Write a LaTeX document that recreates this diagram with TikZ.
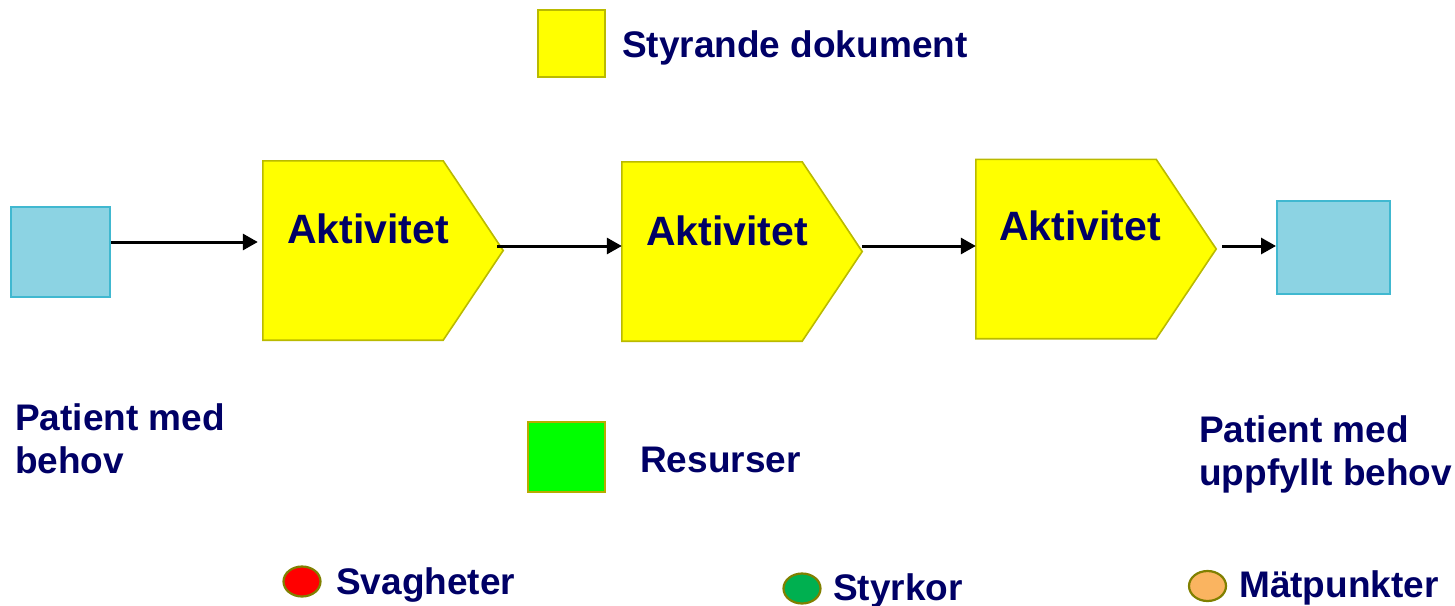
\documentclass[tikz,border=0pt]{standalone}
\usepackage{fontspec}
\setmainfont{Liberation Sans}
\usetikzlibrary{shapes.geometric,arrows.meta}
\definecolor{navy}{RGB}{0,0,102}
\definecolor{patfill}{RGB}{140,211,227}
\definecolor{patline}{RGB}{64,184,208}
\definecolor{docfill}{RGB}{255,255,0}
\definecolor{docline}{RGB}{186,186,0}
\definecolor{resfill}{RGB}{0,255,0}
\definecolor{resline}{RGB}{184,170,0}
\definecolor{dotline}{RGB}{128,128,0}
\definecolor{weakfill}{RGB}{255,0,0}
\definecolor{strongfill}{RGB}{0,176,80}
\definecolor{measfill}{RGB}{250,180,96}
\tikzset{
  patbox/.style={draw=patline, fill=patfill, line width=2pt, inner sep=0pt},
  actarea/.style={inner sep=0pt, minimum width=240pt, minimum height=179pt},
  actshape/.style={draw=docline, fill=docfill, line width=1.6pt, line join=miter},
  legbox/.style={line width=2pt, inner sep=0pt},
  dot/.style={ellipse, draw=dotline, line width=2.2pt, inner sep=0pt,
    minimum width=37pt, minimum height=30pt},
  lbl/.style={text=navy, font=\bfseries\fontsize{37}{43}\selectfont,
    anchor=base west, inner sep=0pt, align=left},
  acttxt/.style={text=navy, font=\bfseries\fontsize{41}{48}\selectfont,
    anchor=base west, inner sep=0pt},
  arr/.style={line width=3pt, -{Triangle[length=15pt,width=16pt]}}
}
\begin{document}
\begin{tikzpicture}[x=1pt,y=-1pt]
\useasboundingbox (0,0) rectangle (1455,605);

% patient before and after the process
\node[patbox, minimum width=99pt, minimum height=90pt] (pin) at (60.5,252) {};
\node[patbox, minimum width=113pt, minimum height=93pt] (pout) at (1333.5,247.5) {};

% the three activities: areas, then arrow-shaped outlines
\node[actarea] (a1) at (383,250.5) {};
\node[actarea] (a2) at (742,251.5) {};
\node[actarea] (a3) at (1096,249) {};
\foreach \a in {a1,a2,a3}
  \draw[actshape] (\a.north west) -- ([xshift=-60pt]\a.north east)
    -- (\a.east) -- ([xshift=-60pt]\a.south east) -- (\a.south west) -- cycle;
\node[acttxt] (t1) at (287,243) {Aktivitet};
\node[acttxt] (t2) at (646,245) {Aktivitet};
\node[acttxt] (t3) at (999,240) {Aktivitet};

% flow between them
\draw[arr] ([yshift=10pt]pin.east) -- ([xshift=-5pt,yshift=8.5pt]a1.west);
\draw[arr] ([xshift=-6pt,yshift=4.5pt]a1.east) -- ([yshift=5.5pt]a2.west);
\draw[arr] ([yshift=5.5pt]a2.east) -- ([yshift=3pt]a3.west);
\draw[arr] ([xshift=6pt,yshift=3pt]a3.east) -- ([yshift=1.5pt]pout.west);

% legend boxes
\node[legbox, draw=docline, fill=docfill, minimum width=67pt, minimum height=67pt] (doc) at (571.5,43.5) {};
\node[lbl] (doctxt) at (622,57) {Styrande dokument};
\node[legbox, draw=resline, fill=resfill, minimum width=77pt, minimum height=70pt] (res) at (566.5,457) {};
\node[lbl] (restxt) at (640,472) {Resurser};

% patient labels
\node[lbl] (pintxt) at (15,473) {Patient med\\behov};
\node[lbl] (pouttxt) at (1199,485) {Patient med\\uppfyllt behov};

% marker legend
\node[dot, fill=weakfill] (weak) at (302,581.5) {};
\node[lbl] (weaktxt) at (336,594) {Svagheter};
\node[dot, fill=strongfill] (strong) at (802,588.5) {};
\node[lbl] (strongtxt) at (833,600) {Styrkor};
\node[dot, fill=measfill] (meas) at (1207.5,586) {};
\node[lbl] (meastxt) at (1239,597) {Mätpunkter};
\end{tikzpicture}
\end{document}
